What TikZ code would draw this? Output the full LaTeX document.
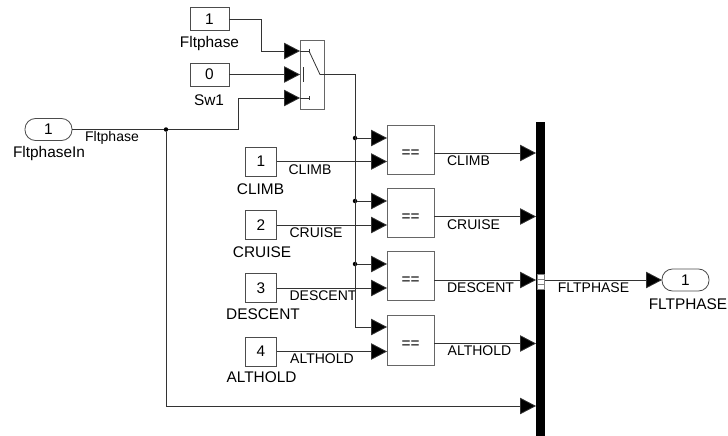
\documentclass[tikz,border=0pt]{standalone}
\usepackage{fontspec}
\setmainfont{Liberation Sans}
\usetikzlibrary{arrows.meta,positioning,calc}

\tikzset{
  sig/.style={draw=black!80,line width=0.8pt,-{Triangle[length=16pt,width=16.5pt,fill=black]}},
  wire/.style={draw=black!80,line width=0.8pt},
  konst/.style={draw=black!70,line width=0.8pt,fill=white,minimum width=39pt,minimum height=23pt,inner sep=0pt,outer sep=0pt,font=\fontsize{15.4}{16}\selectfont},
  konsts/.style={konst,minimum width=31pt,minimum height=29pt},
  eqblock/.style={draw=black!60,line width=0.9pt,fill=white,minimum width=47pt,minimum height=49pt,inner sep=0pt,outer sep=0pt,font=\fontsize{15.4}{16}\selectfont},
  port/.style={draw=black!70,line width=0.8pt,fill=white,rounded corners=10.5pt,minimum width=47pt,minimum height=22pt,inner sep=0pt,outer sep=0pt,font=\fontsize{15.4}{16}\selectfont},
  blabel/.style={inner sep=0pt,font=\fontsize{15.4}{16}\selectfont},
  slabel/.style={inner sep=0pt,font=\fontsize{14}{15}\selectfont},
  dot/.style={circle,fill=black,inner sep=0pt,minimum size=4.5pt,outer sep=0pt},
  buscell/.style={draw=black!50,line width=0.5pt,fill=white,minimum width=7pt,minimum height=5pt,inner sep=0pt,outer sep=0pt},
}
\newcommand{\eqsign}{\raisebox{-8pt}[0pt][0pt]{==}}

\begin{document}
\begin{tikzpicture}[x=1pt,y=-1pt]
\useasboundingbox (0,0) rectangle (728,436);
% blocks
\node[port] (fltin) at (48.5,129.5) {1};
\node[konst] (kflt) at (209.5,19) {1};
\node[konst] (ksw) at (209.5,74.5) {0};
\node[draw=black!60,line width=0.9pt,minimum width=24pt,minimum height=69pt,inner sep=0pt,outer sep=0pt] (switch) at (312,74.5) {};
\node[konsts] (kclimb) at (261,161.5) {1};
\node[konsts] (kcruise) at (261,225) {2};
\node[konsts] (kdescent) at (261,288) {3};
\node[konsts] (kalthold) at (261,351.5) {4};
\node[eqblock] (eqclimb) at (410.5,149.5) {\eqsign};
\node[eqblock] (eqcruise) at (410.5,213) {\eqsign};
\node[eqblock] (eqdescent) at (410.5,276) {\eqsign};
\node[eqblock,minimum height=50pt] (eqalthold) at (410.5,340) {\eqsign};
\node[fill=black,minimum width=9pt,minimum height=314pt,inner sep=0pt,outer sep=0pt] (bus) at (540.5,279) {};
\node[buscell] (cella) at (540.5,276.5) {};
\node[buscell] (cellb) at (540.5,281.5) {};
\node[buscell] (cellc) at (540.5,286.5) {};
\node[port] (fltout) at (685.5,280) {1};
% block names
\node[blabel] (lfltin) at (49,154) {FltphaseIn};
\node[blabel] (lkflt) at (209.5,44) {Fltphase};
\node[blabel] (lksw) at (209,100) {Sw1};
\node[blabel] (lkclimb) at (260.5,189) {CLIMB};
\node[blabel] (lkcruise) at (262,252) {CRUISE};
\node[blabel] (lkdescent) at (263,314.5) {DESCENT};
\node[blabel] (lkalthold) at (261.5,377.5) {ALTHOLD};
\node[blabel] (lfltout) at (688,304) {FLTPHASE};
% signal names
\node[slabel] (sflt) at (112,138) {Fltphase};
\node[slabel] (sclimb) at (310,170) {CLIMB};
\node[slabel] (scruise) at (316,232.5) {CRUISE};
\node[slabel] (sdescent) at (323,295.5) {DESCENT};
\node[slabel] (salthold) at (322,359) {ALTHOLD};
\node[slabel] (oclimb) at (468.5,161) {CLIMB};
\node[slabel] (ocruise) at (473.5,224.5) {CRUISE};
\node[slabel] (odescent) at (480.5,288) {DESCENT};
\node[slabel] (oalthold) at (479.5,351) {ALTHOLD};
\node[slabel] (sbus) at (593.5,288) {FLTPHASE};
% junctions
\node[dot] (jin) at (166,129.5) {};
\node[dot] (jclimb) at (355,138) {};
\node[dot] (jcruise) at (355,201) {};
\node[dot] (jdescent) at (355,264) {};
% port points
\coordinate (swa) at (300,51);
\coordinate (swb) at (300,74.5);
\coordinate (swc) at (300,98);
\coordinate (bendc) at (238,98);
\coordinate (benda) at (261,51);
\coordinate (bendd) at (355,327);
\coordinate (bendl) at (166,406);
\coordinate (outclimb) at (434,153);
\coordinate (outcruise) at (434,216.5);
\coordinate (outdescent) at (434,280);
\coordinate (outalthold) at (434,343.5);
% switch inside
\draw[wire] (swa) -- +(9,0) coordinate (tipa);
\draw[wire] (swc) -- +(9,0) coordinate (tipc);
\draw[wire] ([yshift=2pt]tipa) -- ([yshift=-2pt]tipa);
\draw[wire] ([yshift=2pt]tipc) -- ([yshift=-2pt]tipc);
\draw[wire] (303.5,67.5) -- (303.5,82);
\draw[wire] (tipa) -- (320,74.5) -- (switch.east);
% connectors
\draw[wire] (fltin.east) -- (jin);
\draw[sig] (jin) -| (bendc) -- (swc);
\draw[sig] (kflt.east) -| (benda) -- (swa);
\draw[sig] (ksw.east) -- (swb);
\draw[wire] (switch.east) -| (bendd);
\draw[sig] (jclimb) -- (jclimb -| eqclimb.west);
\draw[sig] (jcruise) -- (jcruise -| eqcruise.west);
\draw[sig] (jdescent) -- (jdescent -| eqdescent.west);
\draw[sig] (bendd) -- (bendd -| eqalthold.west);
\draw[sig] (kclimb.east) -- (kclimb.east -| eqclimb.west);
\draw[sig] (kcruise.east) -- (kcruise.east -| eqcruise.west);
\draw[sig] (kdescent.east) -- (kdescent.east -| eqdescent.west);
\draw[sig] (kalthold.east) -- (kalthold.east -| eqalthold.west);
\draw[sig] (outclimb) -- (outclimb -| bus.west);
\draw[sig] (outcruise) -- (outcruise -| bus.west);
\draw[sig] (outdescent) -- (outdescent -| bus.west);
\draw[sig] (outalthold) -- (outalthold -| bus.west);
\draw[wire] (jin) -- (bendl);
\draw[sig] (bendl) -- (bendl -| bus.west);
\draw[sig] (bus.east |- fltout.west) -- (fltout.west);
\end{tikzpicture}
\end{document}
